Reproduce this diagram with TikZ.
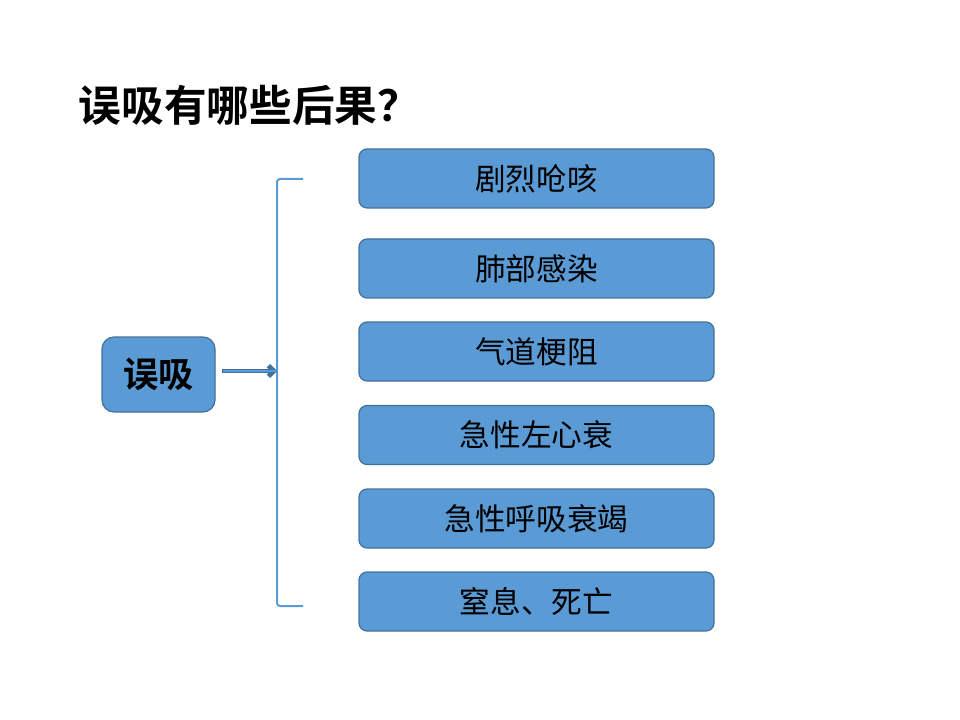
\documentclass[tikz,border=0pt]{standalone}
\usepackage{fontspec}
\setmainfont{Noto Sans CJK SC}
\newfontfamily\cjkb{Noto Sans CJK SC Bold}
\usetikzlibrary{arrows.meta}
\definecolor{boxfill}{HTML}{5B9BD5}
\definecolor{boxline}{HTML}{41719C}
\begin{document}
\begin{tikzpicture}[x=0.75pt,y=-0.75pt,
  item/.style={draw=boxline,fill=boxfill,line width=0.9pt,rounded corners=6pt,minimum width=355*0.75pt,minimum height=59*0.75pt,inner sep=0pt,font=\fontsize{23}{25}\selectfont},
  main/.style={draw=boxline,fill=boxfill,line width=0.9pt,rounded corners=9pt,minimum width=113*0.75pt,minimum height=75*0.75pt,inner sep=0pt,font=\cjkb\fontsize{26.5}{28}\selectfont},
  brace/.style={draw=boxfill,line width=1.5pt}]
\useasboundingbox (0,0) rectangle (960,720);
\node[anchor=west,font=\cjkb\fontsize{32}{34}\selectfont] (title) at (74,105) {误吸有哪些后果？};
\node[main] (m) at (158.5,374.5) {误吸};
\node[item] (b1) at (536.5,178.5) {剧烈呛咳};
\node[item] (b2) at (536.5,268.5) {肺部感染};
\node[item] (b3) at (536.5,351.5) {气道梗阻};
\node[item] (b4) at (536.5,435) {急性左心衰};
\node[item] (b5) at (536.5,518.5) {急性呼吸衰竭};
\node[item] (b6) at (536.5,601.5) {窒息、死亡};
\coordinate (bt) at (303,179);
\coordinate (bb) at (303,606);
\coordinate (bm) at (277,371);
\draw[brace] (bt) -- (280,179) to[out=180,in=90] (277,182) -- (277,603) to[out=-90,in=180] (280,606) -- (bb);
\draw[draw=boxline,line width=3.5pt,-{Straight Barb[length=4pt,width=8pt]}] (222,371) -- (bm);
\draw[boxfill,line width=2.2pt,shorten >=1pt] (223,371) -- (bm);
\end{tikzpicture}
\end{document}
